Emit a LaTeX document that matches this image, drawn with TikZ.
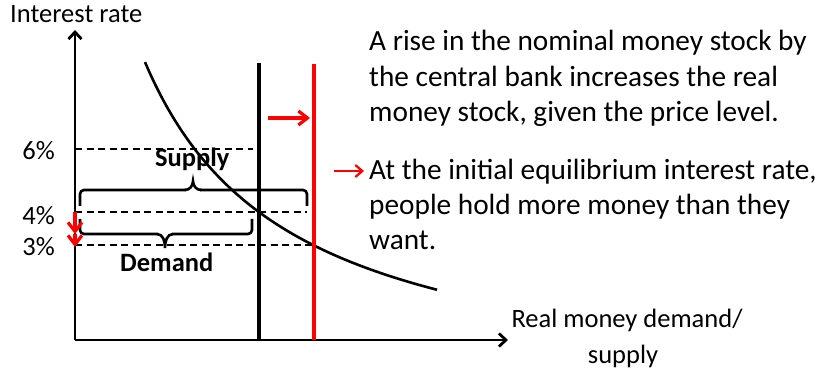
\documentclass[tikz,border=0pt]{standalone}
\usepackage{fontspec}
\setmainfont{Carlito}
\usetikzlibrary{arrows.meta}
\begin{document}
\begin{tikzpicture}[x=1pt,y=-1pt,
  axis/.style={line width=2.8pt,-{Straight Barb[length=7pt,width=13pt,line width=2.8pt]}},
  dline/.style={dash pattern=on 7pt off 4.5pt,line width=2pt},
  redarr/.style={red,line width=3.2pt,-{Straight Barb[length=9pt,width=14pt,line width=3.2pt]}},
  brc/.style={line width=2.6pt,rounded corners=4pt},
  lbl/.style={font=\fontsize{26.5}{30}\selectfont,inner sep=0pt},
  txt/.style={font=\fontsize{29.3}{36}\selectfont,inner sep=0pt,anchor=base west},
  bl/.style={font=\fontsize{26.5}{30}\selectfont\bfseries,inner sep=0pt,anchor=base west}]
\useasboundingbox (0,0) rectangle (822,374);
% axes
\coordinate (O) at (75,340);
\coordinate (Ytop) at (75,30);
\coordinate (Xend) at (508,340);
\draw[axis] (O) -- (Ytop);
\draw[axis] (O) -- (Xend);
\node[lbl,anchor=base west] (ylab) at (10,23) {Interest rate};
\node[lbl,anchor=base] (xlab1) at (627,327) {Real money demand/};
\node[lbl,anchor=base] (xlab2) at (623,363) {supply};
% dashed levels
\coordinate (d6a) at (75,149); \coordinate (d6b) at (253,149);
\coordinate (d4a) at (75,212); \coordinate (d4b) at (307,212);
\coordinate (d3a) at (75,245); \coordinate (d3b) at (314,245);
\draw[dline] (d6a) -- (d6b);
\draw[dline] (d4a) -- (d4b);
\draw[dline] (d3a) -- (d3b);
\node[lbl,anchor=base east] (p6) at (55,160) {6\%};
\node[lbl,anchor=base east] (p4) at (55,225) {4\%};
\node[lbl,anchor=base east] (p3) at (55,255) {3\%};
% demand curve
\draw[line width=2.6pt] plot[domain=145:437,samples=60,smooth] (\x,{402.8-494/(\x/100)});
% supply lines
\coordinate (s1t) at (259,63); \coordinate (s1b) at (259,340);
\coordinate (s2t) at (314,64); \coordinate (s2b) at (314,340);
\draw[line width=3.6pt] (s1t) -- (s1b);
\draw[red,line width=4.8pt] (s2t) -- (s2b);
% shift arrow
\coordinate (sa) at (268,118); \coordinate (sb) at (310,118);
\draw[redarr] (sa) -- (sb);
% supply brace
\coordinate (ba) at (80,206); \coordinate (bb) at (307,206);
\draw[brc] (ba) -- (80,190) -- (186,190);
\draw[line width=2.6pt] (185,190) to[out=0,in=-90] (193,181) to[out=-90,in=180] (201,190);
\draw[brc] (200,190) -- (307,190) -- (bb);
\node[bl] (supply) at (155,166.5) {Supply};
% demand brace
\coordinate (da) at (80,219); \coordinate (db) at (252,219);
\draw[brc] (da) -- (80,234) -- (158,234);
\draw[line width=2.6pt] (157,234) to[out=0,in=90] (165,248) to[out=90,in=180] (173,234);
\draw[brc] (172,234) -- (252,234) -- (db);
\node[bl] (demand) at (120,271) {Demand};
% interest rate falls
\coordinate (r1) at (75,212); \coordinate (r2) at (75,234); \coordinate (r3) at (75,247);
\draw[redarr] (r1) -- (r2);
\draw[redarr] (r2) -- (r3);
% text
\node[txt] (t1) at (369,51) {A rise in the nominal money stock by};
\node[txt] (t2) at (369,86.5) {the central bank increases the real};
\node[txt] (t3) at (369,122) {money stock, given the price level.};
\node[txt] (t4) at (369,180) {At the initial equilibrium interest rate,};
\node[txt] (t5) at (369,214.5) {people hold more money than they};
\node[txt] (t6) at (369,250) {want.};
\coordinate (ta) at (334,171); \coordinate (tb) at (364,171);
\draw[red,line width=2.2pt,-{Straight Barb[length=7pt,width=12pt,line width=2.2pt]}] (ta) -- (tb);
\end{tikzpicture}
\end{document}
